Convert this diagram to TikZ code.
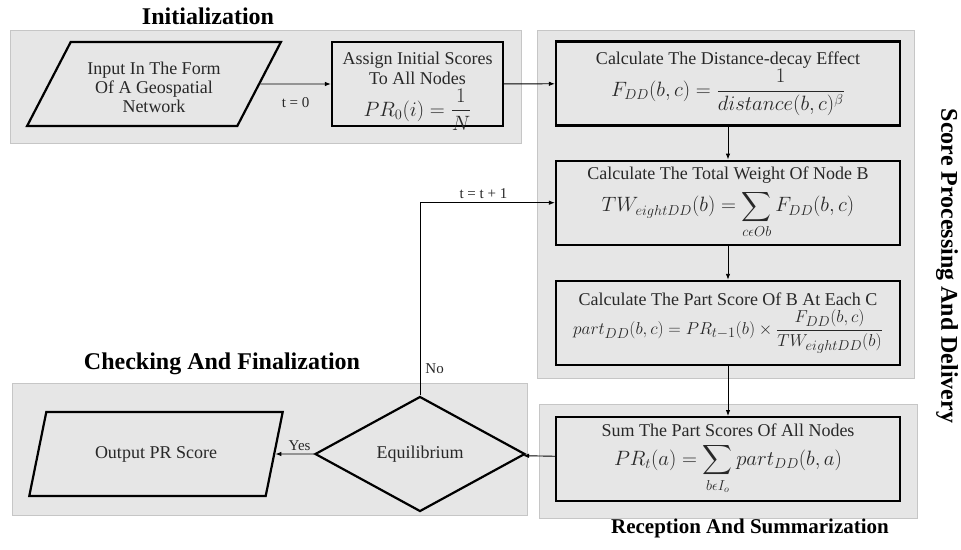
\documentclass[tikz,border=0pt]{standalone}
\usepackage{fontspec}
\setmainfont{Liberation Serif}
\usepackage{amsmath}
\usetikzlibrary{shapes.geometric, arrows.meta, positioning}
\definecolor{panelgray}{RGB}{230,230,230}
\definecolor{panelline}{RGB}{198,198,198}
\definecolor{textgray}{RGB}{40,40,40}
\newcommand{\fmsize}{\fontsize{20}{22}\selectfont}

\begin{document}
\begin{tikzpicture}[
    x=1pt, y=-1pt,
    arrow/.style={-{Latex[length=6pt,width=4.5pt]}, line width=0.9pt}, % Arrow style
    panel/.style={fill=panelgray, draw=panelline, line width=1pt},
    procbox/.style={draw, line width=2.2pt, minimum width=344pt, minimum height=84pt,
        inner sep=0pt, align=center, text=textgray, font=\fontsize{18}{20}\selectfont},
    iobox/.style={trapezium, trapezium left angle=59, trapezium right angle=121,
        trapezium stretches=true, draw, line width=2.2pt, minimum width=254pt,
        minimum height=84pt, inner sep=0pt, align=center, text=textgray,
        font=\fontsize{18}{19}\selectfont},
    decision/.style={diamond, draw, line width=2.2pt, minimum width=210pt,
        minimum height=115pt, inner sep=0pt, text=textgray, font=\fontsize{18}{20}\selectfont},
    title/.style={font=\bfseries\fontsize{24}{28}\selectfont},
    lbl/.style={font=\fontsize{15}{17}\selectfont, text=textgray, inner sep=1pt}
]
    \useasboundingbox (0,0) rectangle (961,549);

    % Panels
    \draw[panel] (10,30) rectangle (521,143);
    \draw[panel] (537,30) rectangle (914,378);
    \draw[panel] (539,404) rectangle (917,518);
    \draw[panel] (12,383) rectangle (527,515);

    % Panel titles
    \node (tinit) [title] at (208,16) {Initialization};
    \node (tcheck) [title] at (222,364) {Checking And Finalization};
    \node (trecv) [title, font=\bfseries\fontsize{21}{24}\selectfont] at (750,528) {Reception And Summarization};
    \node (tscore) [title, rotate=-90] at (947,266) {Score Processing And Delivery};

    % Initialization
    \node (input) [iobox] at (154,84) {\rule{0pt}{20pt}Input In The Form\\Of A Geospatial\\Network};
    \node (assign) [procbox, minimum width=171pt] at (417.5,84)
        {Assign Initial Scores\\To All Nodes\\[3pt]\fmsize$\smash[b]{PR_0(i)=\dfrac{1}{N}}$};

    % Score processing column
    \node (dist) [procbox] at (728,83.5)
        {Calculate The Distance-decay Effect\\\fmsize$F_{DD}(b,c)=\dfrac{1}{distance(b,c)^{\beta}}$};
    \node (total) [procbox, below=33pt of dist]
        {Calculate The Total Weight Of Node B\\[6pt]\fmsize$\displaystyle TW_{eightDD}(b)=\sum_{c\epsilon Ob}F_{DD}(b,c)$};
    \node (part) [procbox, below=34pt of total]
        {Calculate The Part Score Of B At Each C\\[3pt]\fontsize{19}{21}\selectfont$part_{DD}(b,c)=PR_{t-1}(b)\times\dfrac{F_{DD}(b,c)}{TW_{eightDD}(b)}$};
    \node (sum) [procbox, below=50pt of part]
        {Sum The Part Scores Of All Nodes\\[6pt]\fmsize$\displaystyle PR_t(a)=\sum_{b\epsilon I_o}part_{DD}(b,a)$};

    % Checking and finalization
    \node (equil) [decision] at (420,454) {Equilibrium};
    \node (output) [iobox] at (156,454) {Output PR Score};

    % Arrows
    \draw[arrow] (input) -- node[lbl, midway, below=12pt] {t = 0} (assign);
    \draw[arrow] (assign) -- (dist);
    \draw[arrow] (dist) -- (total);
    \draw[arrow] (total) -- (part);
    \draw[arrow] (part) -- (sum);
    \draw[arrow] (sum) -- (equil);
    \draw[arrow] (equil) -- node[lbl, pos=0.37, above=2pt] {Yes} (output);
    \draw[arrow] (equil.north) |- node[lbl, pos=0.07, right=4pt] {No}
        node[lbl, pos=0.735, above=3pt] {t = t + 1} (total.west);

\end{tikzpicture}
\end{document}
